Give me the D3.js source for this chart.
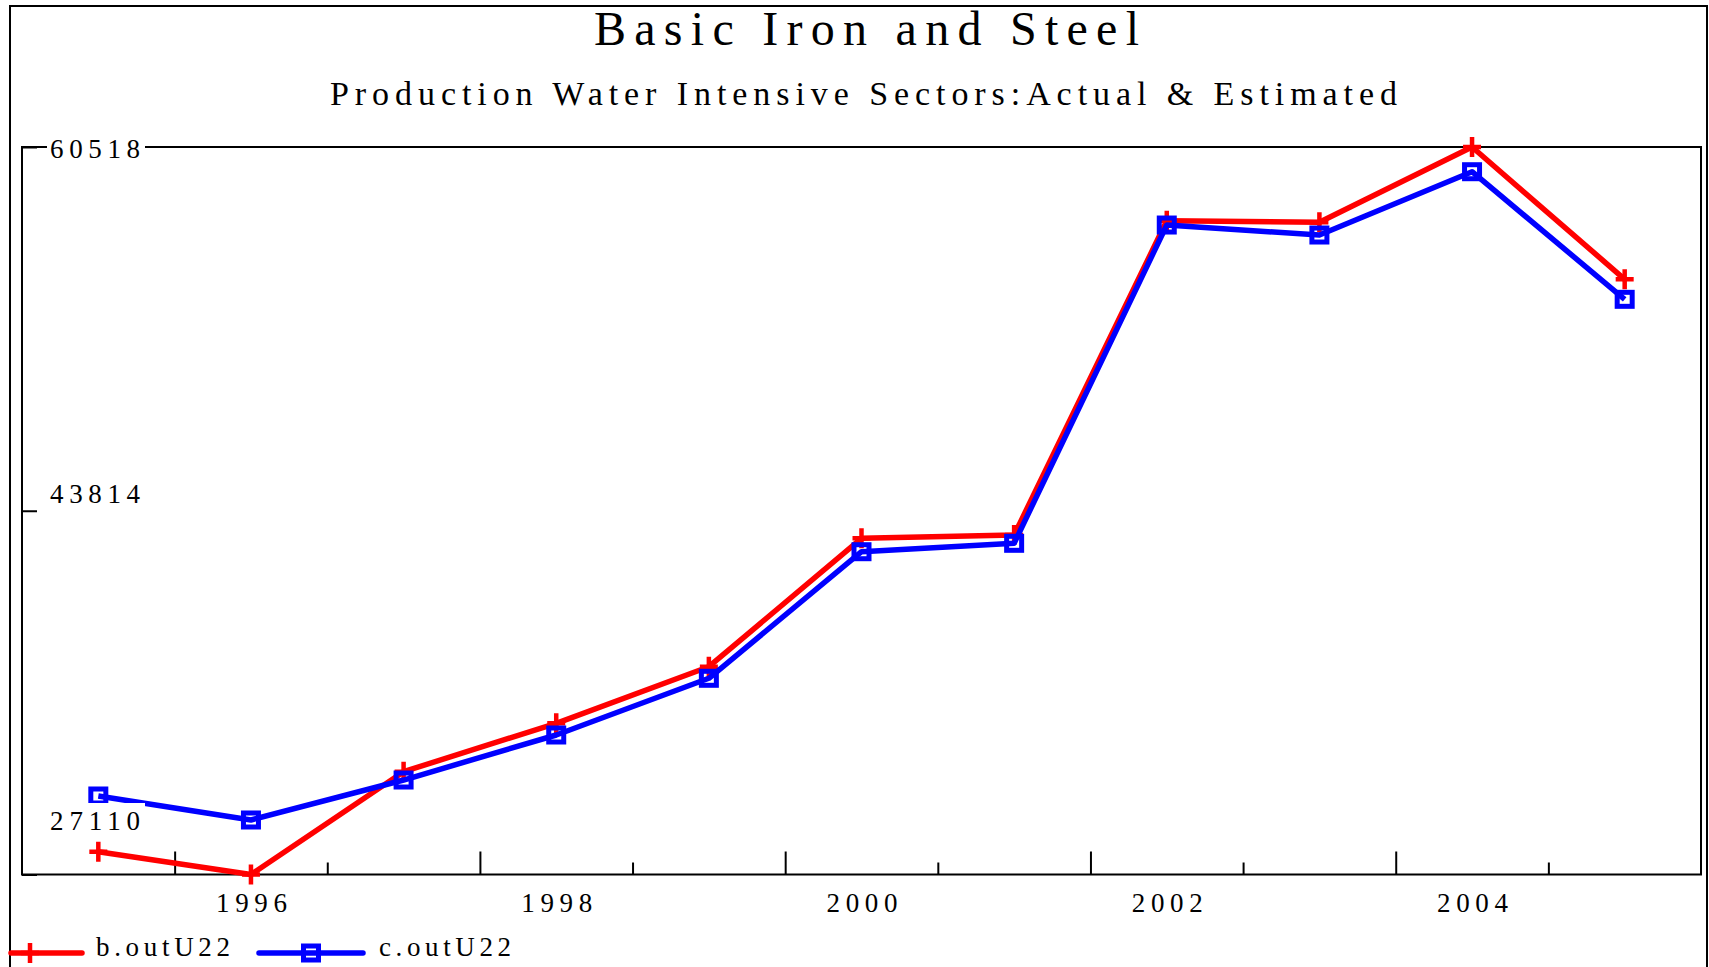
<!DOCTYPE html>
<html>
<head>
<meta charset="utf-8">
<script src="https://cdn.jsdelivr.net/npm/d3@7"></script>
<style>
  body { margin: 0; background: #fff; }
  svg { display: block; }
</style>
</head>
<body>
<svg id="drawing_region"></svg>
<script>
// values
const years = [1995, 1996, 1997, 1998, 1999, 2000, 2001, 2002, 2003, 2004, 2005];
const actual = [28157, 27110, 31831, 34053, 36652, 42548, 42700, 57133, 57059, 60518, 54442];
const estimated = [30715, 29613, 31449, 33516, 36120, 41933, 42319, 56935, 56476, 59383, 53523];
const seriesNames = ["b.outU22", "c.outU22"];
const yTicks = [27110, 43814, 60518];
const xLabels = [1996, 1998, 2000, 2002, 2004];
const majorTicks = [1995.5, 1997.5, 1999.5, 2001.5, 2003.5];
const minorTicks = [1996.5, 1998.5, 2000.5, 2002.5, 2004.5];

const FONT = "'Liberation Serif', 'Times New Roman', serif";

var config = {
  parent: "#drawing_region",
  width: 1709,
  height: 967,
  margin: { top: 147, right: 8, bottom: 92.5, left: 22 },
};

class LineChart {
  constructor(config) {
    this.config = config;
    this.init();
  }

  init() {
    let self = this;
    self.svg = d3
      .select(self.config.parent)
      .attr("width", self.config.width)
      .attr("height", self.config.height);

    self.inner_width =
      self.config.width - self.config.margin.left - self.config.margin.right;
    self.inner_height =
      self.config.height - self.config.margin.top - self.config.margin.bottom;

    self.xscale = d3.scaleLinear().domain([1994.5, 2005.5]).range([0, self.inner_width]);
    self.yscale = d3
      .scaleLinear()
      .domain([d3.min(yTicks), d3.max(yTicks)])
      .range([self.inner_height, 0]);
  }

  render() {
    let self = this;
    const svg = self.svg;

    // outer frame
    svg.append("rect")
      .attr("x", 10).attr("y", 6)
      .attr("width", 1697).attr("height", 1000)
      .attr("fill", "none").attr("stroke", "#000").attr("stroke-width", 2);

    svg.append("text")
      .attr("x", 594).attr("y", 45)
      .attr("font-family", FONT).attr("font-size", 48)
      .attr("textLength", 545).attr("lengthAdjust", "spacing")
      .text("Basic Iron and Steel");

    svg.append("text")
      .attr("x", 330).attr("y", 105)
      .attr("font-family", FONT).attr("font-size", 34)
      .attr("textLength", 1067).attr("lengthAdjust", "spacing")
      .text("Production Water Intensive Sectors:Actual & Estimated");

    self.chart = svg.append("g")
      .attr("transform", `translate(${self.config.margin.left}, ${self.config.margin.top})`);
    const chart = self.chart;

    chart.append("rect")
      .attr("width", self.inner_width).attr("height", self.inner_height)
      .attr("fill", "none").attr("stroke", "#000").attr("stroke-width", 2);

    // x ticks pointing up into the plot
    const tickOnly = (axis, size) =>
      chart.append("g")
        .attr("transform", `translate(0, ${self.inner_height})`)
        .call(axis.tickSize(-size).tickFormat(""))
        .call((g) => g.select(".domain").remove())
        .selectAll("line").attr("stroke", "#000").attr("stroke-width", 2);
    tickOnly(d3.axisBottom(self.xscale).tickValues(majorTicks), 23);
    tickOnly(d3.axisBottom(self.xscale).tickValues(minorTicks), 12);

    // y tick
    chart.append("g")
      .call(d3.axisRight(self.yscale).tickValues(yTicks).tickSize(15).tickFormat(""))
      .call((g) => g.select(".domain").remove())
      .selectAll("line").attr("stroke", "#000").attr("stroke-width", 2);

    // lines & markers
    const series = [
      { name: seriesNames[0], values: actual, color: "#ff0000", marker: "cross" },
      { name: seriesNames[1], values: estimated, color: "#0000ff", marker: "square" },
    ];
    const line = d3.line()
      .x((d, i) => self.xscale(years[i]))
      .y((d) => self.yscale(d));

    const drawMarker = (sel, kind, color) => {
      if (kind === "cross") {
        sel.append("path")
          .attr("d", "M-9,0H9M0,-10V10")
          .attr("stroke", color).attr("stroke-width", 4.5).attr("fill", "none");
      } else {
        sel.append("rect")
          .attr("x", -7.5).attr("y", -7).attr("width", 15).attr("height", 14)
          .attr("stroke", color).attr("stroke-width", 5).attr("fill", "none");
      }
    };

    series.forEach((s) => {
      chart.append("path")
        .datum(s.values)
        .attr("d", line)
        .attr("fill", "none")
        .attr("stroke", s.color)
        .attr("stroke-width", 5.5)
        .attr("stroke-linejoin", "round");
      chart.append("g")
        .selectAll("g")
        .data(s.values)
        .join("g")
        .attr("transform", (d, i) => `translate(${self.xscale(years[i])}, ${self.yscale(d)})`)
        .each(function () { drawMarker(d3.select(this), s.marker, s.color); });
    });

    // y labels with white boxes, drawn over the lines
    const labelDy = { 27110: -44.5, 43814: -7.5, 60518: 11 };
    const ylab = chart.append("g")
      .selectAll("g")
      .data(yTicks)
      .join("g")
      .attr("transform", (d) => `translate(28, ${self.yscale(d) + labelDy[d]})`);
    ylab.append("rect")
      .attr("x", -3).attr("y", -27).attr("width", 98).attr("height", 31)
      .attr("fill", "#fff");
    ylab.append("text")
      .attr("font-family", FONT).attr("font-size", 27)
      .attr("textLength", 90).attr("lengthAdjust", "spacing")
      .text((d) => d);

    // x labels
    chart.append("g")
      .attr("transform", `translate(0, ${self.inner_height})`)
      .call(d3.axisBottom(self.xscale).tickValues(xLabels).tickSize(0).tickPadding(18.6).tickFormat(d3.format("d")))
      .call((g) => g.select(".domain").remove())
      .selectAll("text")
      .attr("font-family", FONT).attr("font-size", 27).attr("fill", "#000")
      .attr("textLength", 71).attr("lengthAdjust", "spacing");

    // legend
    const legendLayout = [
      { x1: 11, x2: 82, mx: 30, tx: 96, tw: 134 },
      { x1: 259, x2: 363, mx: 311, tx: 379, tw: 132 },
    ];
    const ly = 953;
    series.forEach((s, i) => {
      const L = legendLayout[i];
      svg.append("line")
        .attr("x1", L.x1).attr("x2", L.x2).attr("y1", ly).attr("y2", ly)
        .attr("stroke", s.color).attr("stroke-width", 5.5).attr("stroke-linecap", "round");
      drawMarker(svg.append("g").attr("transform", `translate(${L.mx}, ${ly})`), s.marker, s.color);
      svg.append("text")
        .attr("x", L.tx).attr("y", 956)
        .attr("font-family", FONT).attr("font-size", 27)
        .attr("textLength", L.tw).attr("lengthAdjust", "spacing")
        .text(s.name);
    });
  }
}

const lineChart = new LineChart(config);
lineChart.render();
</script>
</body>
</html>
